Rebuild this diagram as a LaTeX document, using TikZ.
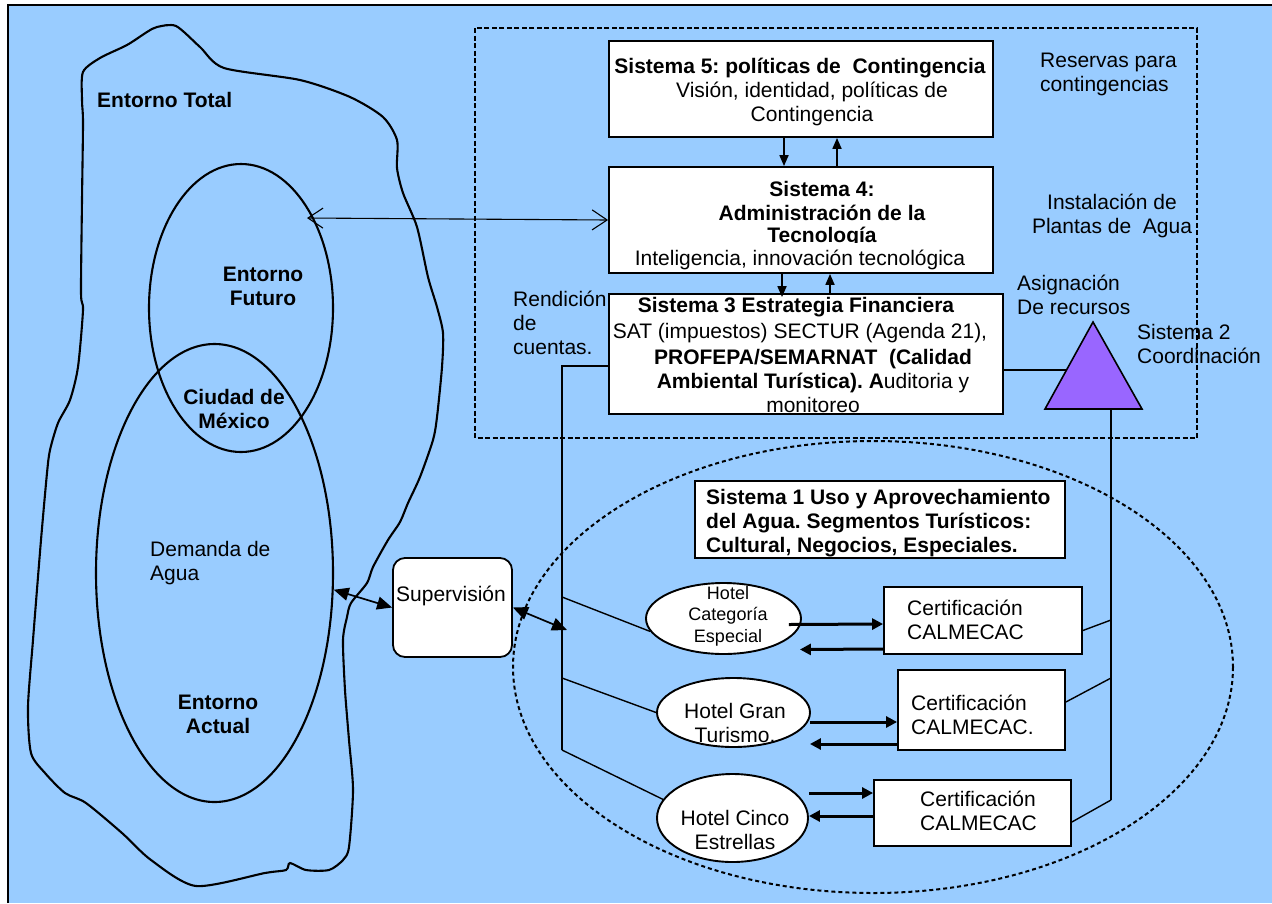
\documentclass[tikz,border=0pt]{standalone}
\usepackage{fontspec}
\setmainfont{Liberation Sans}
\usetikzlibrary{arrows.meta,shapes.geometric}
\definecolor{sky}{HTML}{99CCFF}
\definecolor{tri}{HTML}{9966FF}
\frenchspacing

\begin{document}
\begin{tikzpicture}[x=1pt,y=-1pt,
  every node/.style={inner sep=0pt, font=\fontsize{21}{24}\selectfont},
  sysbox/.style={draw, fill=white, line width=1.8pt, rectangle},
  ring/.style={draw, ellipse, line width=2.1pt},
  hotel/.style={draw, fill=white, ellipse, line width=1.9pt},
  bold/.style={font=\fontsize{21}{24}\selectfont\bfseries},
  link/.style={line width=1.4pt},
  sysarrow/.style={line width=1.7pt, -{Triangle[length=11pt,width=9pt]}},
  flow/.style={line width=3pt, -{Triangle[length=11pt,width=11pt]}},
  duplex/.style={line width=1.7pt, {Triangle[length=15pt,width=13pt]}-{Triangle[length=15pt,width=13pt]}},
  barb/.style={line width=1.1pt, {Straight Barb[length=15pt,width=20pt]}-{Straight Barb[length=15pt,width=20pt]}},
  dashrect/.style={line width=2.2pt, dash pattern=on 5pt off 2.5pt},
  dashring/.style={line width=2pt, dash pattern=on 4pt off 3pt}]
\useasboundingbox (0,0) rectangle (1272,903);

% page and sheet
\fill[white] (0,0) rectangle (1272,903);
\fill[sky] (8,5) rectangle (1272,903);
\draw[line width=1.8pt] (8,903) -- (8,5) -- (1272,5);

% total environment outline
\draw[line width=2.1pt] plot[smooth cycle, tension=0.45] coordinates {
 (83,72) (100,58) (127,45) (147,32) (157,27) (176,26) (200,47) (224,68)
 (300,80) (350,97) (383,117) (397,140) (397,168) (403,193) (417,227)
 (428,277) (437,307) (443,333) (442,367) (437,417) (433,440) (420,477)
 (408,503) (400,522) (388,540) (373,567) (367,583) (351,603) (347,617)
 (343,640) (345,690) (349,740) (353,790) (349,847) (343,860) (329,870)
 (306,870) (290,863) (286,870) (265,873) (196,886) (151,860) (122,833)
 (86,803) (65,793) (45,773) (31,753) (28,707) (33,640) (41,540) (47,473)
 (50,450) (58,423) (70,400) (78,367) (83,310) (81,293) (82,200) (83,123)
 (82,100)};

% future and current environments
\node[ring, minimum width=184pt, minimum height=288pt] (fut) at (241,308) {};
\node[ring, minimum width=237pt, minimum height=458pt] (act) at (214.5,573) {};

\node[bold, anchor=west] (tTotal) at (97,100) {Entorno Total};
\node[bold, align=center] (tFut) at (263,286) {Entorno\\Futuro};
\node[bold, align=center] (tCdmx) at (234,409) {Ciudad de\\México};
\node[align=left, anchor=west] (tDem) at (150,563) {Demanda de\\Agua};
\node[bold, align=center] (tAct) at (218,714) {Entorno\\Actual};

% management area (systems 3 to 5)
\draw[dashrect] (475,28) rectangle (1197,438);

% operation area (system 1)
\draw[dashring] (873,667) ellipse [x radius=360, y radius=226];

% system boxes
\node[sysbox, minimum width=384pt, minimum height=96pt] (s5) at (801,89) {};
\node[sysbox, minimum width=384pt, minimum height=106pt] (s4) at (801,220) {};
\node[sysbox, minimum width=394pt, minimum height=120pt] (s3) at (806,354) {};

\node[bold] (s5a) at (800,68) {Sistema 5: políticas de\ \ Contingencia};
\node[align=center] (s5b) at (812,104) {Visión, identidad, políticas de\\Contingencia};

\node[bold, align=center] (s4a) at (822,201) {Sistema 4:\\Administración de la};
\begin{scope}
  \clip (600,150) rectangle (1000,242);
  \node[bold] (s4b) at (822,237) {Tecnología};
\end{scope}
\node (s4c) at (800,260) {Inteligencia, innovación tecnológica};

\node[bold] (s3a) at (796,307) {Sistema 3 Estrategia Financiera};
\node (s3b) at (800,333) {SAT (impuestos) SECTUR (Agenda 21),};
\node[align=center] (s3c) at (813,381) {\textbf{PROFEPA/SEMARNAT\ \ (Calidad}\\\textbf{Ambiental Turística). A}uditoria y\\monitoreo};

% flows between systems
\draw[sysarrow] ([xshift=-17pt]s5.south) -- ([xshift=-17pt]s4.north);
\draw[sysarrow] ([xshift=36pt]s4.north) -- ([xshift=36pt]s5.south);
\draw[sysarrow] ([xshift=-19pt]s4.south) -- ([xshift=-24pt,yshift=-4pt]s3.north);
\draw[sysarrow] ([xshift=24pt]s3.north) -- ([xshift=29pt]s4.south);

% side labels
\node[align=left, anchor=west] (lRes) at (1040,74) {Reservas para\\contingencias};
\node[align=center] (lInst) at (1112,216) {Instalación de\\Plantas de\ \ Agua};
\node[align=left, anchor=west] (lAsig) at (1017,295) {Asignación\\De recursos};
\node[align=left, anchor=west] (lSis2) at (1137,344) {Sistema 2\\Coordinación};
\node[align=left, anchor=west] (lRend) at (513,323) {Rendición\\de\\cuentas.};

% system 2: coordination triangle
\coordinate (tTop) at (1093,322);
\coordinate (tLeft) at (1045,409);
\coordinate (tRight) at (1142,409);
\filldraw[fill=tri, line width=1.6pt] (tTop) -- (tLeft) -- (tRight) -- cycle;
\coordinate (tIn) at (1066.5,370);
\draw[link] (tIn -| s3.east) -- (tIn);

% system 1 box
\node[sysbox, minimum width=370pt, minimum height=77pt] (s1) at (880,519.5) {};
\node[bold, align=left, anchor=west] (s1t) at (706,523) {Sistema 1 Uso y Aprovechamiento\\del Agua. Segmentos Turísticos:\\Cultural, Negocios, Especiales.};

% hotels
\node[hotel, minimum width=155pt, minimum height=71pt] (h1) at (723.5,618.5) {};
\node[hotel, minimum width=153pt, minimum height=69pt] (h2) at (733.5,712.5) {};
\node[hotel, minimum width=151pt, minimum height=88pt] (h3) at (732.5,818) {};
\node[align=center, font=\fontsize{18}{21.5}\selectfont] (h1t) at (728,616) {Hotel\\Categoría\\Especial};
\node[align=center] (h2t) at (735,723) {Hotel Gran\\Turismo.};
\node[align=center] (h3t) at (735,830) {Hotel Cinco\\Estrellas};

% certifications
\node[sysbox, minimum width=198pt, minimum height=67pt] (c1) at (983,620.5) {};
\node[sysbox, minimum width=167pt, minimum height=80pt] (c2) at (981.5,710) {};
\node[sysbox, minimum width=197pt, minimum height=66pt] (c3) at (972.5,813) {};
\node[align=left, anchor=west] (c1t) at (907,620) {Certificación\\CALMECAC};
\node[align=left, anchor=west] (c2t) at (911,715) {Certificación\\CALMECAC.};
\node[align=left, anchor=west] (c3t) at (920,811) {Certificación\\CALMECAC};

% hotel <-> certification flows
\draw[flow] ([xshift=-13pt,yshift=-6pt]h1.east) -- ([yshift=-3.5pt]c1.west);
\draw[flow] ([yshift=-28.5pt]c1.west) -- ([xshift=-2pt,yshift=-31pt]h1.east);
\draw[flow] ([xshift=-1pt,yshift=-9.5pt]h2.east) -- ([yshift=-12pt]c2.west);
\draw[flow] ([yshift=-34pt]c2.west) -- ([xshift=-1pt,yshift=-31.5pt]h2.east);
\draw[flow] ([yshift=25pt]h3.east) -- ([yshift=20pt]c3.west);
\draw[flow] ([yshift=-3pt]c3.west) -- ([yshift=2pt]h3.east);

% accountability line from system 3 to the hotels
\coordinate (L0) at (562,366);
\coordinate (L1) at (562,597);
\coordinate (L2) at (562,678);
\coordinate (L3) at (562,750);
\draw[link] (L0 -| s3.west) -- (L0) -- (L3);
\draw[link] (L1) -- (h1.190);
\draw[link] (L2) -- (h2.west);
\draw[link] (L3) -- (h3.165);

% coordination line from system 2 to the certifications
\coordinate (R0) at (1111,409);
\coordinate (R1) at (1111,620);
\coordinate (R2) at (1111,678);
\coordinate (R3) at (1111,800);
\draw[link] (R0) -- (R3);
\draw[link] (R1) -- ([yshift=-10pt]c1.east);
\draw[link] (R2) -- ([yshift=8pt]c2.east);
\draw[link] (R3) -- ([yshift=-9pt]c3.east);

% supervision
\node[draw, fill=white, rounded corners=12pt, line width=1.8pt, minimum width=119pt, minimum height=99pt] (sup) at (452.5,607.5) {};
\node (supt) at (451,596) {Supervisión};
\coordinate (Lsup) at (567,630);
\draw[duplex] (act.-8) -- (sup.west);
\draw[duplex] (sup.east) -- (Lsup);

% technology link to the future environment
\coordinate (futIn) at (307,218);
\draw[barb] (futIn) -- (s4.west);
\end{tikzpicture}
\end{document}
